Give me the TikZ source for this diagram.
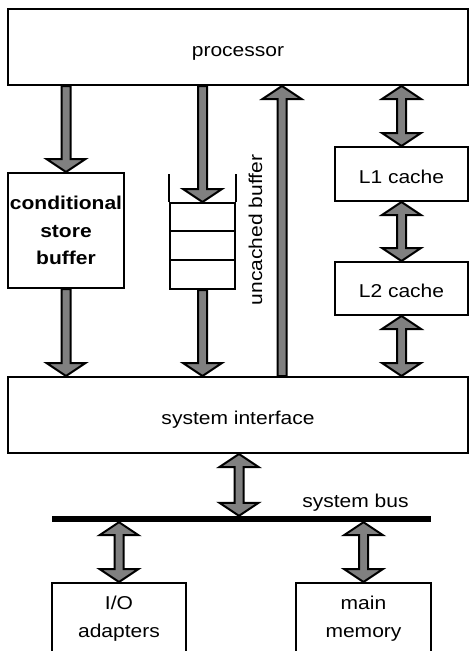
\documentclass[tikz,border=0pt]{standalone}
\usepackage{fontspec}
\setmainfont{Liberation Sans}[FakeStretch=1.13]
\usetikzlibrary{calc}
\definecolor{arrgray}{gray}{0.5}
\tikzset{
  lbl/.style={font=\fontsize{18.6}{27.5}\selectfont},
  box/.style={draw, line width=2pt, rectangle, inner sep=0pt, lbl},
  onebox/.style={box, text height=18pt, text depth=0pt},
  barr/.style={draw, line width=2pt, fill=arrgray, line join=miter},
}
\newcommand\blkarrow[2]{\path[barr] let \p1=(#1), \p2=(#2), \n1={sign(\y2-\y1)} in
  (\x1-4.5pt,\y1) -- (\x1-4.5pt,{\y2-\n1*13pt}) -- (\x1-19.5pt,{\y2-\n1*13pt}) -- (\x1,\y2)
  -- (\x1+19.5pt,{\y2-\n1*13pt}) -- (\x1+4.5pt,{\y2-\n1*13pt}) -- (\x1+4.5pt,\y1) -- cycle;}
\newcommand\dblarrow[2]{\path[barr] let \p1=(#1), \p2=(#2), \n1={sign(\y2-\y1)} in
  (\x1-4.5pt,{\y1+\n1*13pt}) -- (\x1-4.5pt,{\y2-\n1*13pt}) -- (\x1-19.5pt,{\y2-\n1*13pt}) -- (\x1,\y2)
  -- (\x1+19.5pt,{\y2-\n1*13pt}) -- (\x1+4.5pt,{\y2-\n1*13pt}) -- (\x1+4.5pt,{\y1+\n1*13pt})
  -- (\x1+19.5pt,{\y1+\n1*13pt}) -- (\x1,\y1) -- (\x1-19.5pt,{\y1+\n1*13pt}) -- cycle;}
\begin{document}
\begin{tikzpicture}[x=1pt,y=-1pt]
\useasboundingbox (0,0) rectangle (469,651);
\node[onebox, minimum width=460, minimum height=76] (proc) at (238,47) {processor};
\node[box, minimum width=116, minimum height=115, align=center,
  font=\bfseries\fontsize{18.6}{27.5}\selectfont] (csb) at (66,230.5) {conditional\\store\\buffer};
\node[draw, line width=2pt, inner sep=0pt, minimum width=65, minimum height=86] (queue) at (202.5,246) {};
\draw[line width=2pt] (queue.north west) -- ++(0,-28);
\draw[line width=2pt] (queue.north east) -- ++(0,-28);
\draw[line width=2pt] (queue.north west) ++(0,29) -- ++(65,0);
\draw[line width=2pt] (queue.north west) ++(0,58) -- ++(65,0);
\node[lbl, rotate=90, inner sep=0pt] (unc) at (255.5,230) {uncached buffer};
\node[onebox, minimum width=133, minimum height=54] (L1) at (401.5,174) {L1 cache};
\node[onebox, minimum width=133, minimum height=53] (L2) at (401.5,288.5) {L2 cache};
\node[onebox, minimum width=460, minimum height=76] (sysif) at (238,415) {system interface};
\node[fill=black, inner sep=0pt, minimum width=379, minimum height=6] (bus) at (241.5,519) {};
\node[lbl, inner sep=0pt] (sbl) at (355.5,502.5) {system bus};
\node[box, minimum width=134, minimum height=71, align=center] (io) at (119,618.5) {I/O\\adapters};
\node[box, minimum width=135, minimum height=71, align=center] (mem) at (363.5,618.5) {main\\memory};
\coordinate (ux) at (282,0);
\coordinate (bx) at (239,0);
\blkarrow{proc.south -| csb.north}{csb.north}
\blkarrow{csb.south}{sysif.north -| csb.south}
\blkarrow{proc.south -| queue.north}{queue.north}
\blkarrow{queue.south}{sysif.north -| queue.south}
\blkarrow{sysif.north -| ux}{proc.south -| ux}
\dblarrow{proc.south -| L1.north}{L1.north}
\dblarrow{L1.south}{L2.north}
\dblarrow{L2.south}{sysif.north -| L2.south}
\dblarrow{sysif.south -| bx}{bus.north -| bx}
\dblarrow{bus.south -| io.north}{io.north}
\dblarrow{bus.south -| mem.north}{mem.north}
\end{tikzpicture}
\end{document}
